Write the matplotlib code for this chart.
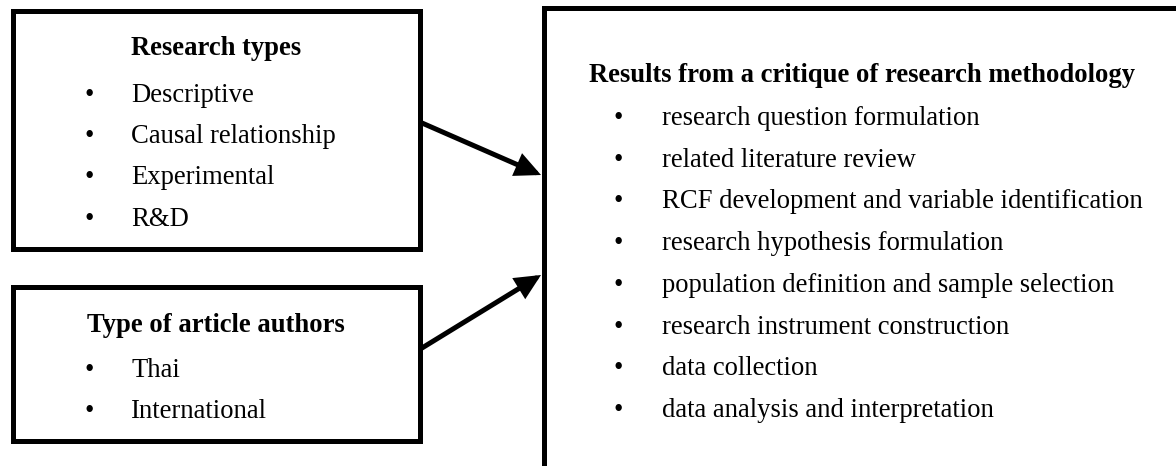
import matplotlib
matplotlib.use("Agg")
import matplotlib.pyplot as plt
from matplotlib.patches import Rectangle, FancyArrowPatch

# ---- content ----
box1_title = "Research types"
box1_items = ["Descriptive", "Causal relationship", "Experimental", "R&D"]
box2_title = "Type of article authors"
box2_items = ["Thai", "International"]
box3_title = "Results from a critique of research methodology"
box3_items = [
    "research question formulation",
    "related literature review",
    "RCF development and variable identification",
    "research hypothesis formulation",
    "population definition and sample selection",
    "research instrument construction",
    "data collection",
    "data analysis and interpretation",
]

W, H = 1176, 466
fig = plt.figure(figsize=(W / 100, H / 100), dpi=100)
ax = fig.add_axes([0, 0, 1, 1])
ax.set_xlim(0, W)
ax.set_ylim(H, 0)
ax.axis("off")

FONT = "Liberation Serif"
FS = 19.2
LW = 3.6

def box(x0, y0, x1, y1):
    ax.add_patch(Rectangle((x0, y0), x1 - x0, y1 - y0, fill=False,
                           lw=LW, edgecolor="black", joinstyle="miter"))

# boxes
box(12.5, 10.5, 419.5, 248.5)
box(12.5, 286.5, 419.5, 440.5)
ax.plot([543.5, 543.5, 1250], [520, 7.5, 7.5], color="black", lw=LW,
        solid_joinstyle="miter", solid_capstyle="butt")

def bullets(items, y0, dy, bx, tx):
    for i, t in enumerate(items):
        y = y0 + i * dy
        ax.text(bx, y, "\u2022", fontsize=FS, family=FONT, ha="center", va="baseline")
        ax.text(tx, y, t, fontsize=FS, family=FONT, ha="left", va="baseline")

# box 1
ax.text(216, 55, box1_title, fontsize=FS, family=FONT, weight="bold", ha="center", va="baseline")
bullets(box1_items, 102, 41.2, 89, 131)

# box 2
ax.text(216, 332, box2_title, fontsize=FS, family=FONT, weight="bold", ha="center", va="baseline")
bullets(box2_items, 377, 41.2, 89, 131)

# box 3
ax.text(589, 82, box3_title, fontsize=FS, family=FONT, weight="bold", ha="left", va="baseline")
bullets(box3_items, 125, 41.7, 618, 662)

# arrows
for (x0, y0), (x1, y1) in [((422, 123), (541, 175)), ((422, 348), (541, 275))]:
    ax.add_patch(FancyArrowPatch((x0, y0), (x1, y1),
                                 arrowstyle="-|>,head_length=0.8,head_width=0.38",
                                 mutation_scale=16, lw=LW, color="black",
                                 shrinkA=0, shrinkB=0, joinstyle="miter"))

fig.savefig("out.png", dpi=100, facecolor="white")
